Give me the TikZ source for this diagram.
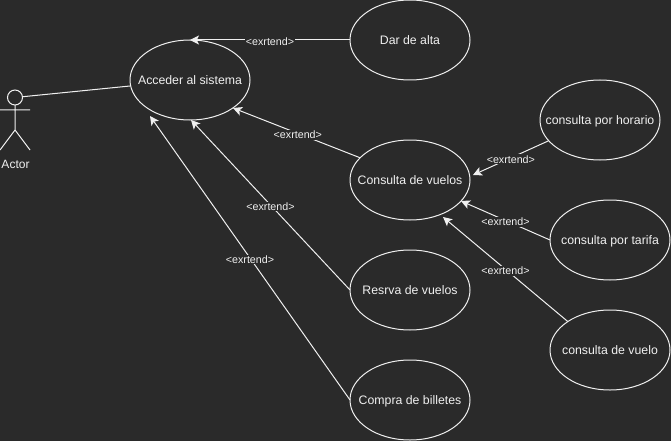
\documentclass[tikz,border=0pt]{standalone}
\usepackage{fontspec}
\setmainfont{Liberation Sans}
\usetikzlibrary{shapes.geometric,arrows.meta}
\definecolor{bg}{HTML}{2A2A2A}
\definecolor{fg}{HTML}{F0F0F0}
\newcommand{\uctext}[1]{\makebox[0pt]{\raisebox{-4.6pt}[0pt][0pt]{#1}}}
\tikzset{
  usecase/.style={ellipse,draw=fg,line width=1pt,inner sep=0pt,outer sep=0pt,minimum width=120pt,minimum height=80pt,text=fg,font=\fontsize{12.3}{14}\selectfont},
  conn/.style={draw=fg,line width=1pt},
  ext/.style={conn,-{Stealth[inset=2.2pt,length=9pt,width=9pt,fill=fg]}},
  lbl/.style={fill=bg,text=fg,inner sep=1pt,yshift=-1.5pt,font=\fontsize{10.7}{12}\selectfont},
  actorlabel/.style={text=fg,inner sep=0pt,font=\fontsize{12}{14}\selectfont},
}
\begin{document}
\begin{tikzpicture}[x=1pt,y=-1pt]
\useasboundingbox[fill=bg] (0,0) rectangle (671,441);
% actor
\node[circle,draw=fg,line width=1pt,minimum size=15pt,inner sep=0pt,outer sep=0pt] (head) at (15,97.5) {};
\coordinate (hip) at (15,130);
\coordinate (armL) at (0,110);
\coordinate (armR) at (30,110);
\coordinate (legL) at (0,150);
\coordinate (legR) at (30,150);
\draw[conn] (head.south) -- (hip) -- (legL) (hip) -- (legR) (armL) -- (armR);
\node[actorlabel] (actor) at (15.5,164) {Actor};
% use cases
\node[usecase] (acc) at (190,80) {\uctext{Acceder al sistema}};
\node[usecase] (dar) at (410,40) {\uctext{Dar de alta}};
\node[usecase] (con) at (410,180) {\uctext{Consulta de vuelos}};
\node[usecase] (res) at (410,290) {\uctext{Resrva de vuelos}};
\node[usecase] (com) at (410,400) {\uctext{Compra de billetes}};
\node[usecase] (hor) at (600,120) {\uctext{consulta por horario}};
\node[usecase] (tar) at (610,240) {\uctext{consulta por tarifa}};
\node[usecase] (vue) at (610,350) {\uctext{consulta de vuelo}};
% arrow targets
\coordinate (t1) at (190,40);
\coordinate (t2) at (233,108);
\coordinate (t3) at (191,120);
\coordinate (t4) at (150,116);
\coordinate (t5) at (473,175);
\coordinate (t6) at (461,201);
\coordinate (t7) at (443,217);
% connectors
\draw[conn] (head) -- (acc);
\draw[ext] (dar.180) -- node[lbl,pos=0.5] (l1) {<exrtend>} (t1);
\draw[ext] (con.156) -- node[lbl,pos=0.49] (l2) {<exrtend>} (t2);
\draw[ext] (res.180) -- node[lbl,pos=0.5] (l3) {<exrtend>} (t3);
\draw[ext] (com.180) -- node[lbl,pos=0.5] (l4) {<exrtend>} (t4);
\draw[ext] (hor.202) -- node[lbl,pos=0.5] (l5) {<exrtend>} (t5);
\draw[ext] (tar.180) -- node[lbl,pos=0.5] (l6) {<exrtend>} (t6);
\draw[ext] (vue.146) -- node[lbl,pos=0.5] (l7) {<exrtend>} (t7);
\end{tikzpicture}
\end{document}
